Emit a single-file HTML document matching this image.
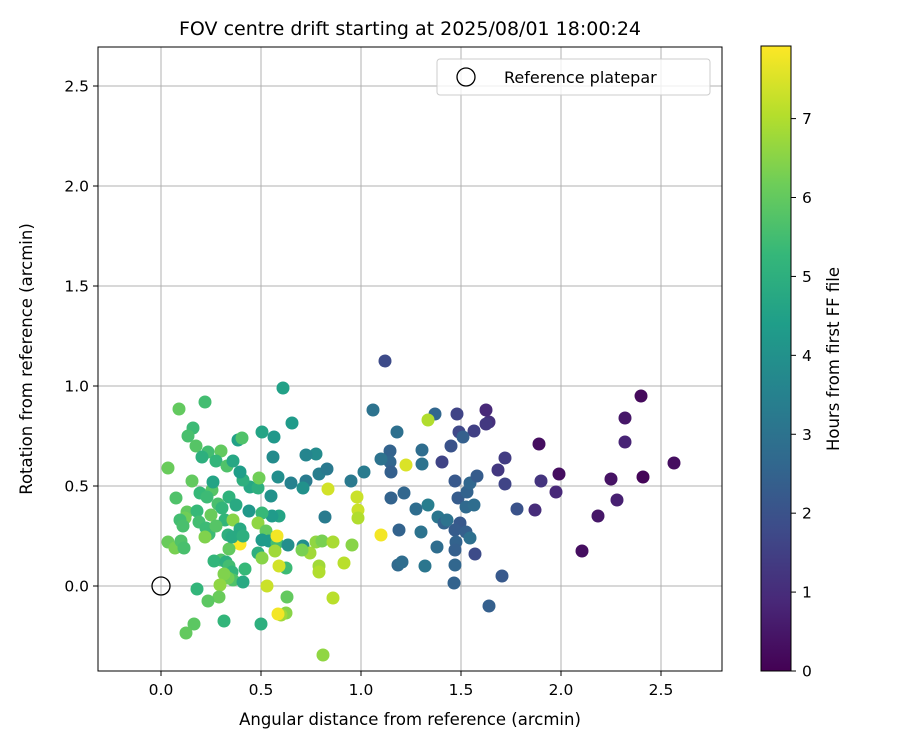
<!DOCTYPE html>
<html><head><meta charset="utf-8"><style>
body{margin:0;background:#fff;font-family:"Liberation Sans","DejaVu Sans",sans-serif}
svg text{font-family:"DejaVu Sans","Liberation Sans",sans-serif}
</style></head><body>
<svg id="chart" width="900" height="750" viewBox="0 0 900 750" xmlns="http://www.w3.org/2000/svg">
<defs><linearGradient id="vir" x1="0" y1="1" x2="0" y2="0"></linearGradient></defs>
<g id="grid"></g>
<g id="pts"></g>
<rect x="98" y="47" width="624" height="624" fill="none" stroke="#000" stroke-width="1"/>
<g id="ticks"></g>
<text x="410" y="35" font-size="19" text-anchor="middle">FOV centre drift starting at 2025/08/01 18:00:24</text>
<text x="410" y="725" font-size="16.5" text-anchor="middle">Angular distance from reference (arcmin)</text>
<text x="32" y="359" font-size="16.5" text-anchor="middle" transform="rotate(-90 32 359)">Rotation from reference (arcmin)</text>
<g>
<rect x="437" y="59" width="273" height="36" rx="3" fill="#fff" fill-opacity="0.8" stroke="#ccc"/>
<circle cx="466" cy="77" r="9" fill="none" stroke="#000" stroke-width="1.3"/>
<text x="504" y="83" font-size="16">Reference platepar</text>
</g>
<rect x="761" y="46" width="30" height="625" fill="url(#vir)" stroke="#000" stroke-width="1"/>
<g id="cbticks"></g>
<text x="839" y="359" font-size="16.5" text-anchor="middle" transform="rotate(-90 839 359)">Hours from first FF file</text>
</svg>
<script>
const xTicks=[0,0.5,1,1.5,2,2.5];
const yTicks=[0,0.5,1,1.5,2,2.5];
const cbTicks=[0,1,2,3,4,5,6,7];
const xs=[2.4,2.32,2.32,2.565,2.41,2.25,2.28,2.185,2.105,1.99,1.975,1.89,1.9,1.87,1.78,1.72,1.72,1.685,1.705,1.64,1.64,1.625,1.625,1.565,1.48,1.49,1.45,1.405,1.37,1.12,1.06,1.18,1.145,1.145,1.15,1.1,1.015,0.95,1.305,1.305,1.335,1.225,1.215,1.15,1.1,1.185,1.205,1.19,1.275,1.3,1.32,1.335,1.385,1.415,1.38,1.43,1.47,1.485,1.51,1.53,1.545,1.525,1.565,1.58,1.495,1.47,1.525,1.545,1.475,1.47,1.47,1.465,1.57,
0.61,0.655,0.565,0.775,0.725,0.585,0.65,0.725,0.79,0.83,0.82,0.71,0.59,0.555,0.55,0.56,0.505,0.385,0.405,0.445,0.485,0.49,0.41,0.395,0.44,0.505,0.485,0.525,0.505,0.54,0.58,0.635,0.625,0.57,0.63,0.625,0.6,0.71,0.745,0.775,0.805,0.79,0.79,0.705,0.81,0.86,0.86,0.915,0.955,0.98,0.985,0.985,0.835,0.58,0.59,0.585,0.53,0.395,0.485,0.505,0.5,
0.09,0.22,0.16,0.135,0.175,0.235,0.205,0.3,0.275,0.33,0.36,0.035,0.155,0.195,0.255,0.26,0.23,0.285,0.305,0.34,0.375,0.32,0.36,0.395,0.075,0.13,0.12,0.18,0.19,0.225,0.25,0.095,0.11,0.24,0.22,0.275,0.335,0.34,0.355,0.41,0.035,0.07,0.1,0.115,0.3,0.265,0.325,0.34,0.355,0.36,0.42,0.41,0.335,0.315,0.295,0.29,0.235,0.18,0.165,0.125,0.315];
const ys=[0.95,0.84,0.72,0.615,0.545,0.535,0.43,0.35,0.175,0.56,0.47,0.71,0.525,0.38,0.385,0.51,0.64,0.58,0.05,-0.1,0.82,0.88,0.81,0.775,0.86,0.77,0.7,0.62,0.86,1.125,0.88,0.77,0.675,0.62,0.57,0.635,0.57,0.525,0.68,0.61,0.83,0.605,0.465,0.44,0.255,0.105,0.12,0.28,0.385,0.27,0.1,0.405,0.345,0.315,0.195,0.33,0.525,0.44,0.745,0.47,0.515,0.395,0.405,0.55,0.315,0.28,0.27,0.24,0.22,0.18,0.105,0.015,0.16,
0.99,0.815,0.745,0.66,0.655,0.545,0.515,0.525,0.56,0.585,0.345,0.49,0.35,0.35,0.45,0.645,0.77,0.73,0.74,0.495,0.49,0.54,0.53,0.57,0.375,0.365,0.315,0.275,0.23,0.225,0.215,0.205,0.09,0.175,-0.055,-0.135,-0.145,0.2,0.165,0.22,0.225,0.1,0.07,0.18,-0.345,-0.06,0.22,0.115,0.205,0.445,0.38,0.34,0.485,0.25,0.1,-0.14,0,0.21,0.165,0.14,-0.19,
0.885,0.92,0.79,0.75,0.7,0.67,0.645,0.675,0.625,0.6,0.625,0.59,0.525,0.465,0.48,0.52,0.445,0.41,0.39,0.445,0.405,0.33,0.33,0.285,0.44,0.37,0.34,0.375,0.32,0.29,0.355,0.33,0.3,0.26,0.245,0.3,0.255,0.185,0.245,0.25,0.22,0.19,0.225,0.19,0.13,0.125,0.12,0.1,0.07,0.03,0.085,0.02,0.04,0.06,0.005,-0.055,-0.075,-0.015,-0.19,-0.235,-0.175];
const hours=[0.2,0.5,0.8,0.3,0.1,0.4,0.7,0.5,0.3,0.3,0.9,0.3,1.2,1,2,1.6,1.4,1.3,2.2,2.4,1.1,0.9,1.3,1.5,1.6,1.7,2,1.6,2.6,1.8,3,2.9,2.5,2.6,2.4,3,3.3,3.2,2.8,3,7,7.5,2.6,2.5,7.8,2.7,2.8,2.5,2.8,3,3.1,3.4,3.1,2.5,2.8,3,2.2,2.3,2.4,2.5,2.6,2.7,2.8,2.3,2.2,2.3,2.4,2.9,2.5,2.4,2.6,2.5,1.8,
4.5,4.3,4.2,3.8,3.6,3.9,3.5,3.3,3.4,3.2,3.3,4,4.6,4.3,4,3.8,4.6,4.5,5.7,4.7,5,6.2,5,4.4,4.2,5.3,6.6,6,4.3,4.3,5.5,3.9,5.4,6.8,6,6.5,6.8,3.9,6.8,6.6,6.3,6.8,7,6.3,6.6,7.1,6.9,7.1,6.5,7.3,7.3,7,7.4,7.8,7.4,7.8,7.3,7.9,5,6.5,5,
6,5.5,5.4,5.6,5.8,5.5,5,6,5.2,5.7,4.7,6.1,6,5.3,5.8,4.6,5.4,5.6,5.2,5.1,4.8,5.2,6.5,4.8,5.7,6,6.2,5.3,5.5,5.4,6.1,5.5,5.6,5.4,6.4,5.8,5,6,4.8,5,6.1,6.3,5.7,5.6,5.7,5.2,5,5.5,5.2,5.7,5.3,4.8,6.2,6.4,6.6,6.1,5.9,5.2,5.9,6,5.2];
const NS='http://www.w3.org/2000/svg';
const X=v=>161+v*200, Y=v=>586-v*200, CB=v=>671-v*(625/7.92);
const VS=[[68,1,84],[72,40,120],[62,74,137],[49,104,142],[38,130,142],[31,158,137],[53,183,121],[109,205,89],[180,222,44],[253,231,37]];
function vir(t){t=Math.max(0,Math.min(1,t))*(VS.length-1);const i=Math.min(Math.floor(t),VS.length-2),f=t-i;const c=VS[i].map((a,k)=>Math.round(a+(VS[i+1][k]-a)*f));return `rgb(${c})`;}
function el(tag,at,parent){const e=document.createElementNS(NS,tag);for(const k in at)e.setAttribute(k,at[k]);parent.appendChild(e);return e;}
const g=document.getElementById('grid'),tk=document.getElementById('ticks'),pts=document.getElementById('pts'),cbt=document.getElementById('cbticks');
const grad=document.getElementById('vir');
VS.forEach((c,i)=>el('stop',{offset:i/(VS.length-1),'stop-color':`rgb(${c})`},grad));
xTicks.forEach(v=>{const x=X(v);
const l=el('line',{x1:x,x2:x,y1:47,y2:671,stroke:'#b0b0b0','stroke-width':1},g);


el('line',{x1:x,x2:x,y1:671,y2:676,stroke:'#000'},tk);
const t=el('text',{x:x,y:695,'font-size':15.5,'text-anchor':'middle'},tk);t.textContent=v.toFixed(1);

});
yTicks.forEach(v=>{const y=Y(v);
const l=el('line',{x1:98,x2:722,y1:y,y2:y,stroke:'#b0b0b0','stroke-width':1},g);


el('line',{x1:93,x2:98,y1:y,y2:y,stroke:'#000'},tk);
const t=el('text',{x:89,y:y+5.5,'font-size':15.5,'text-anchor':'end'},tk);t.textContent=v.toFixed(1);

});
cbTicks.forEach(v=>{const y=CB(v);
el('line',{x1:791,x2:796,y1:y,y2:y,stroke:'#000'},cbt);
const t=el('text',{x:802,y:y+5.5,'font-size':15.5},cbt);t.textContent=v;

});
xs.forEach((v,i)=>{const c=el('circle',{cx:X(v),cy:Y(ys[i]),r:6.5,fill:vir(hours[i]/7.92)},pts);

});
const ref=el('circle',{cx:X(0),cy:Y(0),r:9,fill:'none',stroke:'#000','stroke-width':1.3},pts);


</script>
</body></html>
